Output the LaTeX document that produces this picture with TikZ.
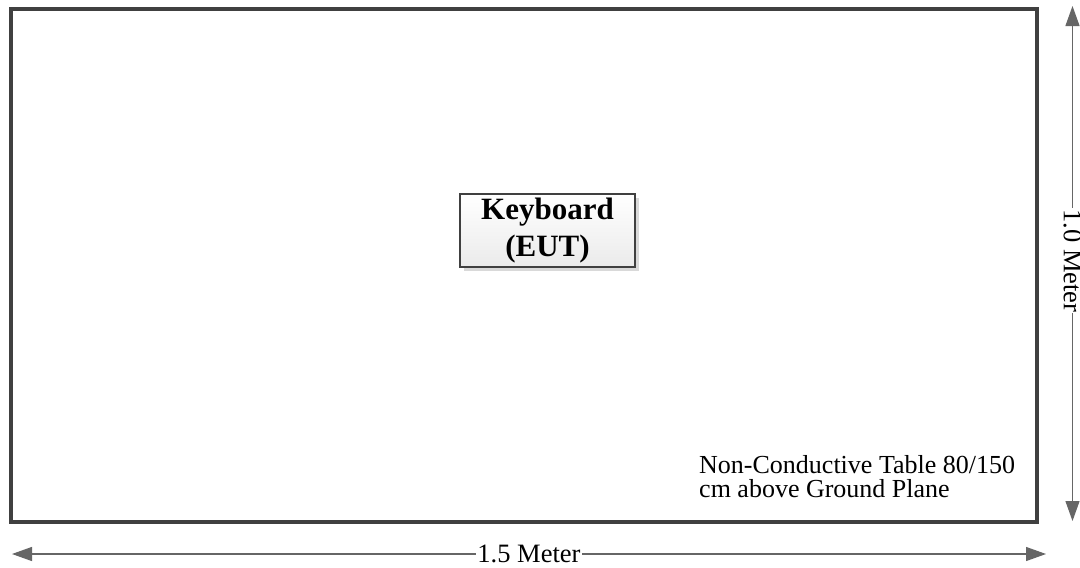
\documentclass[tikz,border=0pt]{standalone}
\usepackage{fontspec}
\setmainfont{Liberation Serif}
\usetikzlibrary{arrows.meta,shadows}
\definecolor{edge}{HTML}{404040}
\tikzset{
  tablebox/.style={draw=edge,line width=4pt},
  eutbox/.style={draw=edge,line width=2pt,top color=white,bottom color=black!8,
    drop shadow={shadow xshift=4pt,shadow yshift=-4pt,fill=black!15,opacity=1},
    minimum width=175pt,minimum height=73pt,inner sep=0pt,align=center,
    font=\fontsize{31}{37}\selectfont\bfseries},
  dim/.style={draw=edge!80,line width=1.2pt,{Triangle[length=20pt,width=14pt]}-{Triangle[length=20pt,width=14pt]}},
  dimlabel/.style={fill=white,inner sep=1pt,font=\fontsize{26.5}{25}\selectfont},
}
\begin{document}
\begin{tikzpicture}[x=1pt,y=-1pt]
\useasboundingbox[fill=white] (0,0) rectangle (1080,568);
\draw[tablebox] (11,9) rectangle (1037,522);
\node[eutbox] (eut) at (547.5,230.5) {Keyboard\\(EUT)};
\node[anchor=north west,align=left,inner sep=0pt,font=\fontsize{26}{24.5}\selectfont] (note) at (699,455) {Non-Conductive Table 80/150\\cm above Ground Plane};
\coordinate (hl) at (12,554);
\coordinate (hr) at (1046,554);
\draw[dim] (hl) -- (hr) node[midway,dimlabel] (hlab) {1.5 Meter};
\coordinate (vt) at (1072.5,6);
\coordinate (vb) at (1072.5,521);
\draw[dim] (vt) -- (vb) node[pos=0.495,dimlabel,rotate=-90] (vlab) {1.0 Meter};
\end{tikzpicture}
\end{document}
